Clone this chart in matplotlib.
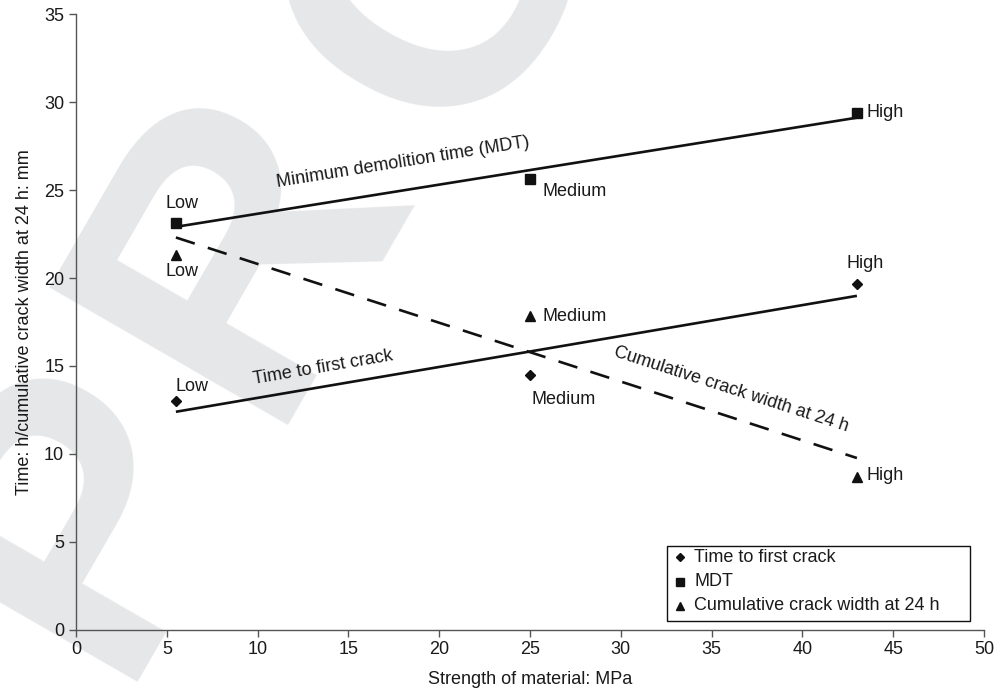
import numpy as np
import matplotlib
matplotlib.use("Agg")
import matplotlib.pyplot as plt
from matplotlib.patches import Rectangle

plt.rcParams["font.family"] = ["Liberation Sans", "DejaVu Sans"]

# ── Data ──────────────────────────────────────────────────────────────────────
strength = [5.5, 25, 43]              # MPa
first_crack = [13.03, 14.50, 19.68]   # h
mdt = [23.15, 25.66, 29.38]           # h
crack_width = [21.33, 17.83, 8.70]    # mm
levels = ["Low", "Medium", "High"]
legend_labels = ["Time to first crack", "MDT", "Cumulative crack width at 24 h"]

TEXT = "#1a1a1a"
AXIS = "#555555"
INK = "#111111"
FS = 13
W, H = 999, 689

fig = plt.figure(figsize=(W / 100, H / 100), dpi=100)
ax = fig.add_axes([0.0761, 0.0862, 0.9089, 0.8928])
ax.set_facecolor("none")

# ── "PROOF" watermark, one letter at a time along a 60° baseline ─────────────
theta = np.deg2rad(60)
base = np.array([np.cos(theta), -np.sin(theta)])    # pixel dir, y down
up = np.array([-np.sin(theta), -np.cos(theta)])
origin = np.array([126.0, 737.0])
em = 400
for ch, along, lift in [("P", 0.10, 40), ("R", 0.845, 40), ("O", 1.689, 0),
                        ("O", 2.617, 0), ("F", 3.545, 0)]:
    px, py = origin + along * em * base + lift * up
    fig.text(px / W, 1 - py / H, ch, fontsize=em * 0.72, fontweight="bold",
             color="#e6e7e9", rotation=60, rotation_mode="anchor",
             ha="left", va="baseline", zorder=-5)

# ── Trend lines (least squares, as in the source chart) ──────────────────────
xs = np.array([strength[0], strength[-1]])
for series, dashed in [(mdt, False), (first_crack, False), (crack_width, True)]:
    k, b = np.polyfit(strength, series, 1)
    line, = ax.plot(xs, k * xs + b, color=INK, lw=1.9, solid_capstyle="butt",
                    dash_capstyle="butt", zorder=2)
    if dashed:
        line.set_dashes((7.5, 5.2))

# ── Points ───────────────────────────────────────────────────────────────────
MK = [("D", 5.2), ("s", 6.5), ("^", 7)]
for series, (m, ms) in zip([first_crack, mdt, crack_width], MK):
    ax.plot(strength, series, ls="none", marker=m, ms=ms, color=INK, zorder=3)

# ── Point labels ─────────────────────────────────────────────────────────────
lab = dict(fontsize=FS, color=TEXT, va="center")
ax.text(5.84, 24.22, levels[0], ha="center", **lab)
ax.text(25.70, 24.93, levels[1], ha="left", **lab)
ax.text(43.54, 29.43, levels[2], ha="left", **lab)

ax.text(6.40, 13.83, levels[0], ha="center", **lab)
ax.text(25.09, 13.08, levels[1], ha="left", **lab)
ax.text(43.45, 20.83, levels[2], ha="center", **lab)

ax.text(5.82, 20.38, levels[0], ha="center", **lab)
ax.text(25.70, 17.83, levels[1], ha="left", **lab)
ax.text(43.54, 8.75, levels[2], ha="left", **lab)

# ── Line captions ────────────────────────────────────────────────────────────
cap = dict(fontsize=FS, color=TEXT, ha="center", va="center", rotation_mode="anchor")
ax.text(18.0, 26.56, "Minimum demolition time (MDT)", rotation=9.1, **cap)
ax.text(13.6, 14.9, "Time to first crack", rotation=9.7, **cap)
ax.text(36.07, 13.64, "Cumulative crack width at 24 h", rotation=-17.9, **cap)

# ── Axes styling ─────────────────────────────────────────────────────────────
ax.set_xlim(0, 50)
ax.set_ylim(0, 35)
ax.set_xticks(np.arange(0, 51, 5))
ax.set_yticks(np.arange(0, 36, 5))
for s in ["top", "right"]:
    ax.spines[s].set_visible(False)
for s in ["left", "bottom"]:
    ax.spines[s].set_color(AXIS)
    ax.spines[s].set_linewidth(1.0)
ax.tick_params(direction="out", length=5, width=1.0, color=AXIS,
               labelsize=FS, labelcolor=TEXT)
ax.set_xlabel("Strength of material: MPa", fontsize=FS, color=TEXT, labelpad=9)
ax.set_ylabel("Time: h/cumulative crack width at 24 h: mm", fontsize=FS,
              color=TEXT, labelpad=8)

# ── Legend box (drawn by hand to match the padding of the original) ──────────
ax.add_patch(Rectangle((0.651, 0.014), 0.3336, 0.1219, transform=ax.transAxes,
                       facecolor="white", edgecolor=INK, lw=1.0, zorder=4,
                       clip_on=False))
for i, (label, (m, ms)) in enumerate(zip(legend_labels, MK)):
    yy = 0.118 - i * 0.0398
    ax.plot([0.665], [yy], ls="none", marker=m, ms=ms * 0.85, color=INK,
            transform=ax.transAxes, clip_on=False, zorder=5)
    ax.text(0.6806, yy, label, transform=ax.transAxes, fontsize=FS, color=TEXT,
            ha="left", va="center", zorder=5)

fig.savefig("out.png", dpi=100)
